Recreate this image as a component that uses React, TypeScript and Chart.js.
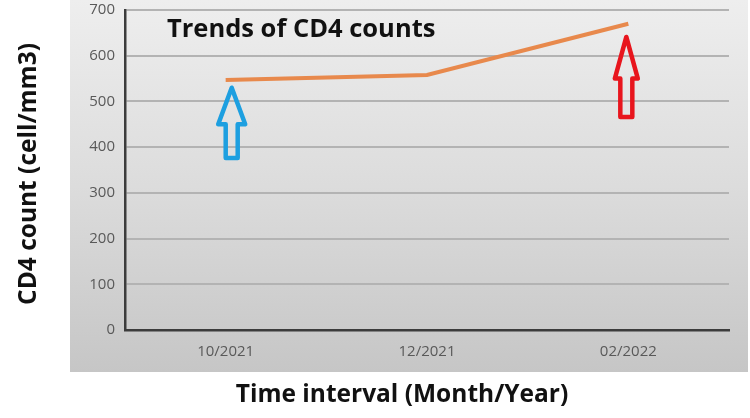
import React, { useEffect, useRef } from "react";
import { Chart, registerables } from "chart.js";

Chart.register(...registerables);

const categories = ["10/2021", "12/2021", "02/2022"];
const cd4Values = [547, 558, 670];
const yTicks = [0, 100, 200, 300, 400, 500, 600, 700];
const chartTitle = "Trends of CD4 counts";
const yAxisTitle = "CD4 count (cell/mm3)";
const xAxisTitle = "Time interval (Month/Year)";
// arrows: category position, tip value, tail value
const arrowPos = [0.03, 1.99];
const arrowTip = [530, 641];
const arrowTail = [376, 466];
const arrowColors = ["#1d9fe0", "#e8151d"];

const FONT = "'Open Sans', 'Noto Sans', sans-serif";

const decorPlugin = {
  id: "decor",
  beforeDraw(chart: any) {
    const { ctx } = chart;
    ctx.save();
    ctx.fillStyle = "#ffffff";
    ctx.fillRect(0, 0, chart.width, chart.height);
    const g = ctx.createLinearGradient(0, 0, 0, 372);
    g.addColorStop(0, "#eeeeee");
    g.addColorStop(0.5, "#dcdcdc");
    g.addColorStop(1, "#c6c6c6");
    ctx.fillStyle = g;
    ctx.fillRect(70, 0, 678, 372);
    ctx.restore();
  },
  afterDatasetsDraw(chart: any) {
    const { ctx } = chart;
    const xs = chart.scales.x;
    const ys = chart.scales.y;
    ctx.save();
    // arrows
    arrowPos.forEach((p, i) => {
      const cx = xs.getPixelForValue(p);
      const tipY = ys.getPixelForValue(arrowTip[i]);
      const tailY = ys.getPixelForValue(arrowTail[i]);
      const len = tailY - tipY;
      const headH = len * 0.52;
      const headW = i === 0 ? 13.5 : 11.5;
      const shaftW = 6;
      ctx.beginPath();
      ctx.moveTo(cx, tipY);
      ctx.lineTo(cx + headW, tipY + headH);
      ctx.lineTo(cx + shaftW, tipY + headH);
      ctx.lineTo(cx + shaftW, tailY);
      ctx.lineTo(cx - shaftW, tailY);
      ctx.lineTo(cx - shaftW, tipY + headH);
      ctx.lineTo(cx - headW, tipY + headH);
      ctx.closePath();
      ctx.strokeStyle = arrowColors[i];
      ctx.lineWidth = 4.5;
      ctx.lineJoin = "round";
      ctx.stroke();
    });
    // title
    ctx.fillStyle = "#111111";
    ctx.font = `bold 25.5px ${FONT}`;
    ctx.textAlign = "left";
    ctx.textBaseline = "middle";
    ctx.fillText(chartTitle, 167, 30);
    // x axis title
    ctx.textAlign = "center";
    ctx.font = `bold 24.5px ${FONT}`;
    ctx.fillText(xAxisTitle, 402, 395);
    // y axis title
    ctx.font = `bold 24.5px ${FONT}`;
    ctx.translate(29, 174);
    ctx.rotate(-Math.PI / 2);
    ctx.fillText(yAxisTitle, 0, 0);
    ctx.restore();
  },
};

export default function App() {
  const ref = useRef<HTMLCanvasElement>(null);
  useEffect(() => {
    document.body.style.margin = "0";
    const chart = new Chart(ref.current!, {
      type: "line",
      data: {
        labels: categories,
        datasets: [
          {
            data: cd4Values,
            borderColor: "#e8894c",
            borderWidth: 4,
            pointRadius: 0,
            tension: 0,
            fill: false,
          },
        ],
      },
      options: {
        animation: false,
        responsive: false,
        layout: { padding: { top: 10, right: 21, left: 0, bottom: 0 } },
        plugins: { legend: { display: false }, tooltip: { enabled: false } },
        scales: {
          x: {
            offset: true,
            grid: { display: false, drawTicks: false },
            border: { display: true, color: "#3c3c3c", width: 2.5 },
            ticks: { color: "#595959", font: { family: FONT, size: 15 }, padding: 13 },
            afterFit(scale: any) {
              scale.height = 88;
              scale.paddingLeft = 0;
              scale.paddingRight = 0;
            },
          },
          y: {
            min: 0,
            max: 700,
            afterBuildTicks(scale: any) {
              scale.ticks = yTicks.map((v) => ({ value: v }));
            },
            grid: { color: "#b3b3b3", lineWidth: 2, drawTicks: false },
            border: { display: true, color: "#3c3c3c", width: 2.5 },
            ticks: { color: "#595959", font: { family: FONT, size: 15 }, padding: 10 },
            afterFit(scale: any) {
              scale.width = 125;
              scale.paddingTop = 0;
              scale.paddingBottom = 0;
            },
          },
        },
      },
      plugins: [decorPlugin],
    });
    return () => chart.destroy();
  }, []);
  return (
    <div style={{ position: "absolute", left: 0, top: 0, width: 750, height: 418 }}>
      <canvas ref={ref} width={750} height={418} />
    </div>
  );
}
